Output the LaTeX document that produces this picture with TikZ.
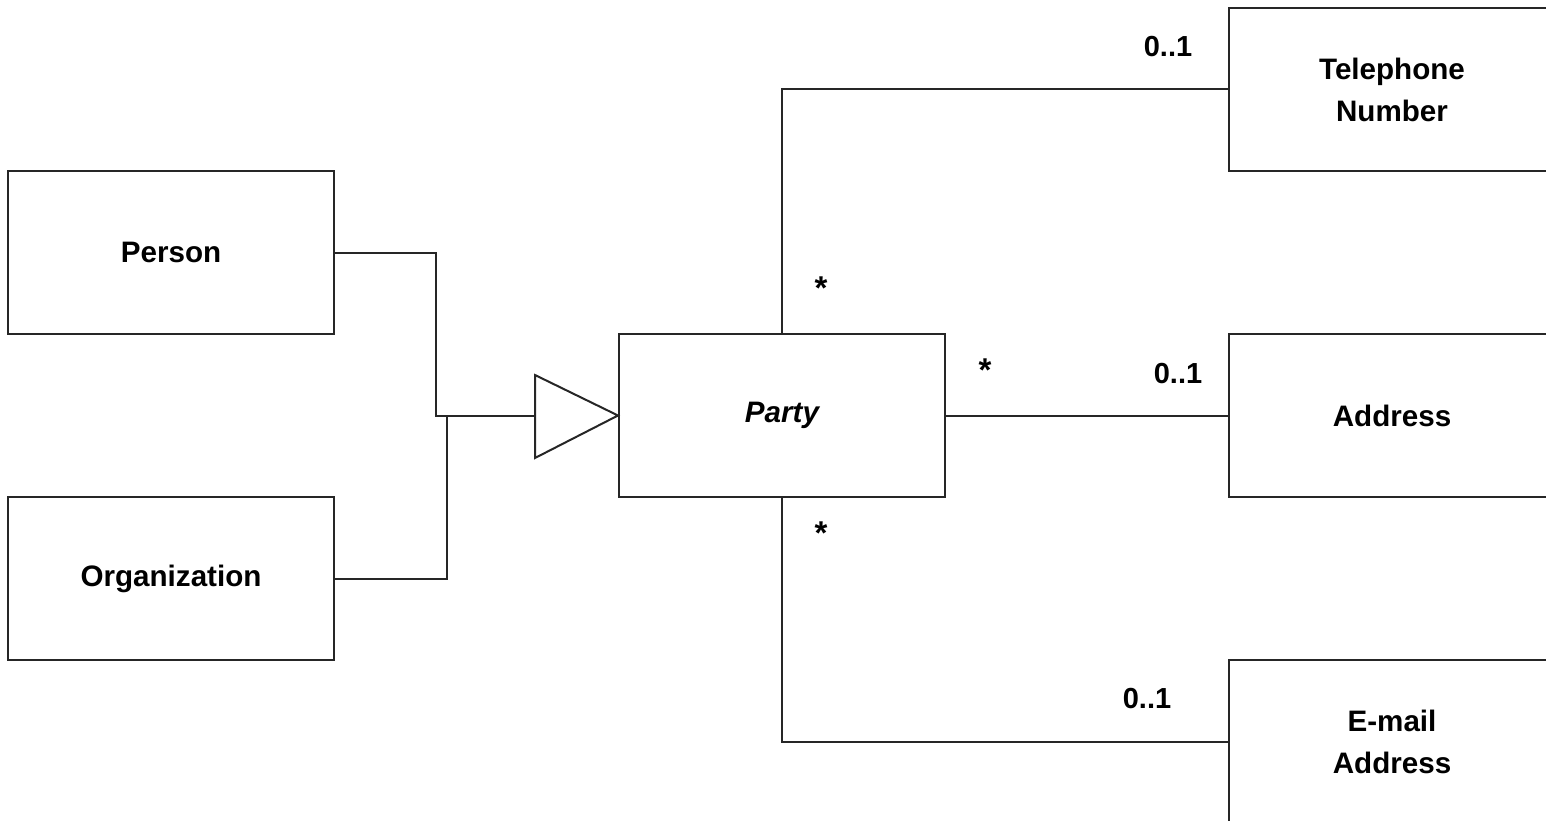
\documentclass[tikz,border=0pt]{standalone}
\usepackage{fontspec}
\setmainfont{Liberation Sans}
\begin{document}
\begin{tikzpicture}[x=1pt,y=-1pt,
  cls/.style={draw=black!85,line width=2pt,minimum width=326pt,minimum height=163pt,inner sep=0pt,align=center,
    font=\fontsize{29.6}{42}\selectfont\bfseries},
  conn/.style={draw=black!85,line width=2pt},
  lbl/.style={inner sep=0pt,font=\fontsize{29}{34}\selectfont\bfseries},
  star/.style={inner sep=0pt,anchor=base,font=\fontsize{33}{34}\selectfont\bfseries}]
\useasboundingbox (0,0) rectangle (1546,821);
\clip (0,0) rectangle (1546,821);
\node[cls] (person) at (171,252.5) {Person};
\node[cls] (org) at (171,578.5) {Organization};
\node[cls] (party) at (782,415.5) {\itshape Party};
\node[cls] (tel) at (1392,89.5) {Telephone\\Number};
\node[cls] (addr) at (1392,415.5) {Address};
\node[cls] (mail) at (1392,741.5) {E-mail\\Address};
% generalization triangle
\coordinate (tb) at (535,416);
\draw[conn,line join=miter] (535,375) -- (party.west) -- (535,458) -- cycle;
\coordinate (j1) at (436,416);
\coordinate (j2) at (447,416);
\draw[conn] (person.east) -| (j1) -- (tb);
\draw[conn] (org.east) -| (j2);
% associations
\draw[conn] (party.north) |- (tel.west);
\draw[conn] (party.east) -- (addr.west);
\draw[conn] (party.south) |- (mail.west);
% multiplicities
\node[star] (s1) at (821,299) {*};
\node[star] (s2) at (985,381) {*};
\node[star] (s3) at (821,544) {*};
\node[lbl] (m1) at (1168,47) {0..1};
\node[lbl] (m2) at (1178,374) {0..1};
\node[lbl] (m3) at (1147,699) {0..1};
\end{tikzpicture}
\end{document}
